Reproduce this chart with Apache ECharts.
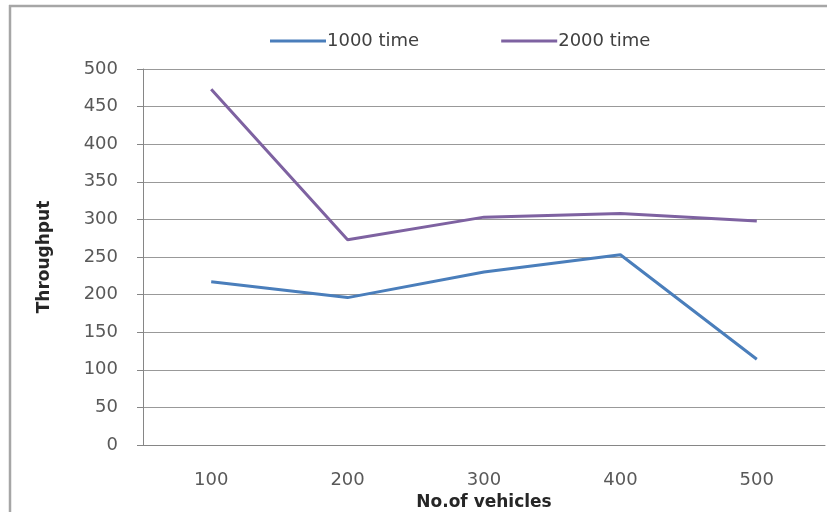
<!DOCTYPE html>
<html>
<head>
<meta charset="utf-8">
<script src="https://cdn.jsdelivr.net/npm/echarts@6/dist/echarts.min.js"></script>
<style>
  html, body { margin: 0; padding: 0; background: #fff; overflow: hidden; }
  #main { width: 827px; height: 512px; }
</style>
</head>
<body>
<div id="main"></div>
<script>
const vehicles = ["100", "200", "300", "400", "500"];
const time1000 = [217, 196, 230, 253, 114];
const time2000 = [473, 273, 303, 308, 298];
const seriesNames = ["1000 time", "2000 time"];

const textColor = "#595959";
const fontFamily = "'DejaVu Sans', sans-serif";
const frameStyle = { stroke: "#a6a6a6", lineWidth: 2.5 };

var myChart = echarts.init(document.getElementById("main"));
myChart.setOption({
  animation: false,
  backgroundColor: "#fff",
  graphic: [
    // chart frame, cut off on the right and bottom like the source image
    { type: "line", shape: { x1: 9, y1: 6, x2: 827, y2: 6 }, style: frameStyle, silent: true },
    { type: "line", shape: { x1: 10, y1: 5, x2: 10, y2: 512 }, style: frameStyle, silent: true }
  ],
  legend: {
    top: 27,
    left: 265,
    itemWidth: 56,
    itemHeight: 3,
    itemGap: 82,
    icon: "rect",
    textStyle: { fontFamily, fontSize: 18, color: "#404040", padding: [0, 0, 0, -4] },
    data: seriesNames
  },
  grid: { left: 143, top: 69, right: 2, bottom: 67, outerBoundsMode: "none", containLabel: false },
  xAxis: {
    type: "category",
    data: vehicles,
    boundaryGap: true,
    name: "No.of vehicles",
    nameLocation: "middle",
    nameGap: 44,
    nameTextStyle: { fontFamily, fontSize: 17, fontWeight: "bold", color: "#262626" },
    axisLine: { lineStyle: { color: "#868686", width: 1 } },
    axisTick: { alignWithLabel: false, length: 7, lineStyle: { color: "#868686" } },
    axisLabel: { fontFamily, fontSize: 18, color: textColor, margin: 26 }
  },
  yAxis: {
    type: "value",
    min: 0,
    max: 500,
    interval: 50,
    name: "Throughput",
    nameLocation: "middle",
    nameGap: 90,
    nameTextStyle: { fontFamily, fontSize: 17, fontWeight: "bold", color: "#262626" },
    axisLine: { show: true, lineStyle: { color: "#868686" } },
    axisTick: { show: true, length: 6, lineStyle: { color: "#868686" } },
    axisLabel: { fontFamily, fontSize: 18, color: textColor, margin: 25 },
    splitLine: { lineStyle: { color: "#999", width: 1 } }
  },
  series: [
    {
      name: seriesNames[0],
      type: "line",
      data: time1000,
      symbol: "none",
      lineStyle: { color: "#4a7ebb", width: 3 },
      itemStyle: { color: "#4a7ebb" }
    },
    {
      name: seriesNames[1],
      type: "line",
      data: time2000,
      symbol: "none",
      lineStyle: { color: "#7e62a1", width: 3 },
      itemStyle: { color: "#7e62a1" }
    }
  ]
});
window.onresize = function() {
  myChart.resize();
};
</script>
</body>
</html>
